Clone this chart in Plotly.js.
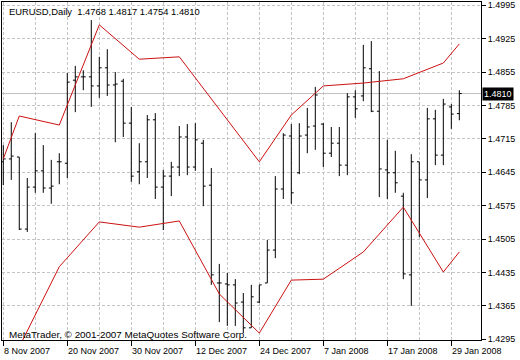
<!DOCTYPE html>
<html>
<head>
<meta charset="utf-8">
<script src="https://cdn.plot.ly/plotly-3.0.1.min.js"></script>
<style>html,body{margin:0;padding:0;background:#fff;}#chart{width:520px;height:360px;}</style>
</head>
<body>
<div id="chart"></div>
<script>
const symbol = 'EURUSD,Daily';
const dates = ['2007-11-08','2007-11-09','2007-11-12','2007-11-13','2007-11-14','2007-11-15','2007-11-16','2007-11-19','2007-11-20','2007-11-21',
 '2007-11-22','2007-11-23','2007-11-26','2007-11-27','2007-11-28','2007-11-29','2007-11-30','2007-12-03','2007-12-04','2007-12-05',
 '2007-12-06','2007-12-07','2007-12-10','2007-12-11','2007-12-12','2007-12-13','2007-12-14','2007-12-17','2007-12-18','2007-12-19',
 '2007-12-20','2007-12-21','2007-12-24','2007-12-26','2007-12-27','2007-12-28','2007-12-31','2008-01-02','2008-01-03','2008-01-04',
 '2008-01-07','2008-01-08','2008-01-09','2008-01-10','2008-01-11','2008-01-14','2008-01-15','2008-01-16','2008-01-17','2008-01-18',
 '2008-01-21','2008-01-22','2008-01-23','2008-01-24','2008-01-25','2008-01-28','2008-01-29','2008-01-30'];
const opens = [1.4667,1.4673,1.4677,1.4526,1.4614,1.4648,1.4612,1.4667,1.4664,1.4838,
 1.4845,1.4845,1.4826,1.4864,1.4828,1.4836,1.4748,1.4646,1.4667,1.4755,
 1.4614,1.4637,1.4656,1.4719,1.4656,1.4706,1.4618,1.4413,1.4411,1.4409,
 1.4373,1.4319,1.4373,1.4413,1.4482,1.4610,1.4721,1.4644,1.4723,1.4742,
 1.4746,1.4685,1.4706,1.4660,1.4803,1.4805,1.4862,1.4773,1.4650,1.4644,
 1.4595,1.4430,1.4667,1.4629,1.4757,1.4681,1.4782,1.4768];
const highs = [1.4702,1.4750,1.4677,1.4633,1.4727,1.4702,1.4671,1.4685,1.4853,1.4868,
 1.4859,1.4964,1.4887,1.4903,1.4855,1.4841,1.4782,1.4706,1.4765,1.4769,
 1.4650,1.4667,1.4742,1.4746,1.4748,1.4713,1.4654,1.4453,1.4434,1.4421,
 1.4392,1.4409,1.4409,1.4503,1.4637,1.4727,1.4746,1.4748,1.4780,1.4824,
 1.4748,1.4740,1.4740,1.4811,1.4817,1.4912,1.4920,1.4857,1.4713,1.4690,
 1.4602,1.4683,1.4667,1.4780,1.4776,1.4799,1.4788,1.4817];
const lows = [1.4618,1.4629,1.4524,1.4520,1.4602,1.4602,1.4579,1.4620,1.4633,1.4771,
 1.4817,1.4782,1.4801,1.4805,1.4708,1.4719,1.4625,1.4620,1.4633,1.4589,
 1.4524,1.4595,1.4637,1.4639,1.4648,1.4574,1.4409,1.4331,1.4323,1.4323,
 1.4308,1.4319,1.4371,1.4413,1.4465,1.4589,1.4579,1.4641,1.4685,1.4692,
 1.4656,1.4677,1.4637,1.4639,1.4759,1.4794,1.4771,1.4593,1.4589,1.4602,
 1.4421,1.4365,1.4509,1.4591,1.4660,1.4660,1.4736,1.4754];
const closes = [1.4673,1.4679,1.4526,1.4614,1.4648,1.4612,1.4616,1.4667,1.4834,1.4845,
 1.4845,1.4826,1.4864,1.4828,1.4830,1.4748,1.4637,1.4667,1.4755,1.4614,
 1.4637,1.4656,1.4719,1.4656,1.4713,1.4616,1.4430,1.4413,1.4409,1.4371,
 1.4319,1.4384,1.4409,1.4482,1.4610,1.4723,1.4602,1.4721,1.4740,1.4807,
 1.4685,1.4706,1.4660,1.4803,1.4778,1.4864,1.4773,1.4652,1.4644,1.4623,
 1.4432,1.4667,1.4629,1.4757,1.4681,1.4788,1.4767,1.4810];

const bandDates = ['2007-11-08','2007-11-12','2007-11-19','2007-11-26','2007-12-03','2007-12-10','2007-12-17',
 '2007-12-24','2007-12-31','2008-01-07','2008-01-14','2008-01-21','2008-01-28','2008-01-30'];
const upperBand = [1.4673,1.4763,1.4744,1.4954,1.4882,1.4887,1.4777,1.4667,1.4765,1.4826,1.4832,1.4841,1.4874,1.4914];
const lowerBand = [1.4189,1.4279,1.4447,1.4541,1.4530,1.4543,1.4390,1.4308,1.4419,1.4421,1.4478,1.4572,1.4436,1.4478];

const tickDates = ['2007-11-08','2007-11-20','2007-11-30','2007-12-12','2007-12-24','2008-01-07','2008-01-17','2008-01-29'];
const tickLabels = ['8 Nov 2007','20 Nov 2007','30 Nov 2007','12 Dec 2007','24 Dec 2007','7 Jan 2008','17 Jan 2008','29 Jan 2008'];
const priceTicks = [1.4295,1.4365,1.4435,1.4505,1.4575,1.4645,1.4715,1.4785,1.4855,1.4925,1.4995];

const idx = dates.map((d, i) => i);
const bandX = bandDates.map(d => dates.indexOf(d));
const n = dates.length;
const last = n - 1;
const f4 = v => v.toFixed(4);

const FONT = 'Liberation Sans, Arial, sans-serif';
const GRID = '#c4c4c4';

const traces = [
  {
    type: 'ohlc', x: idx, open: opens, high: highs, low: lows, close: closes,
    increasing: {line: {color: '#000', width: 1}},
    decreasing: {line: {color: '#000', width: 1}},
    tickwidth: 0.3, hoverinfo: 'skip', showlegend: false
  },
  {type: 'scatter', mode: 'lines', x: bandX, y: upperBand, line: {color: '#cc1111', width: 1}, hoverinfo: 'skip', showlegend: false},
  {type: 'scatter', mode: 'lines', x: bandX, y: lowerBand, line: {color: '#cc1111', width: 1}, hoverinfo: 'skip', showlegend: false}
];

const annotations = tickDates.map((d, i) => ({
  x: dates.indexOf(d), xref: 'x', y: 0, yref: 'paper', yanchor: 'top', xanchor: 'left',
  yshift: -4, xshift: -1, text: tickLabels[i], showarrow: false,
  font: {family: FONT, size: 9, color: '#000'}
}));
annotations.push({
  x: 0.0105, xref: 'paper', y: 0.973, yref: 'paper', xanchor: 'left', yanchor: 'middle', showarrow: false,
  text: symbol + '  ' + [opens[last], highs[last], lows[last], closes[last]].map(f4).join(' '),
  font: {family: FONT, size: 9.4, color: '#000'}
});
annotations.push({
  x: 0.0105, xref: 'paper', y: 0.015, yref: 'paper', xanchor: 'left', yanchor: 'middle', showarrow: false,
  text: 'MetaTrader, © 2001-2007 MetaQuotes Software Corp.',
  font: {family: FONT, size: 9.9, color: '#000'}
});
annotations.push({
  x: 1, xref: 'paper', y: closes[last], yref: 'y', xanchor: 'left', yanchor: 'middle', showarrow: false,
  xshift: 1, text: f4(closes[last]), bgcolor: '#000', borderpad: 1,
  font: {family: FONT, size: 9, color: '#fff'}
});

const layout = {
  width: 520, height: 360,
  margin: {l: 2, r: 39, t: 2, b: 20, pad: 0},
  paper_bgcolor: '#fff', plot_bgcolor: '#fff',
  font: {family: FONT, size: 9, color: '#000'},
  showlegend: false,
  xaxis: {
    range: [-0.16, 59.71], rangeslider: {visible: false},
    tickmode: 'linear', tick0: 0, dtick: 8, ticks: 'outside', ticklen: 5, tickcolor: '#000',
    showticklabels: false,
    showgrid: true, gridcolor: GRID, griddash: '3px,2px', gridwidth: 1,
    minor: {tick0: 0, dtick: 4, showgrid: true, gridcolor: GRID, griddash: '3px,2px', gridwidth: 1, ticks: ''},
    showline: true, mirror: true, linecolor: '#000', linewidth: 1, zeroline: false, fixedrange: true
  },
  yaxis: {
    side: 'right', range: [1.42935, 1.50019],
    tickmode: 'array', tickvals: priceTicks, ticktext: priceTicks.map(f4),
    ticks: 'outside', ticklen: 4, tickcolor: '#000',
    tickfont: {family: FONT, size: 9, color: '#000'},
    showgrid: true, gridcolor: GRID, griddash: '3px,2px', gridwidth: 1,
    showline: true, mirror: true, linecolor: '#000', linewidth: 1, zeroline: false, fixedrange: true
  },
  shapes: [{
    type: 'line', xref: 'paper', x0: 0, x1: 1, yref: 'y', y0: closes[last], y1: closes[last],
    line: {color: '#c0c0c0', width: 1}, layer: 'below'
  }],
  annotations: annotations
};

Plotly.newPlot('chart', traces, layout, {displayModeBar: false, staticPlot: true});
</script>
</body>
</html>
